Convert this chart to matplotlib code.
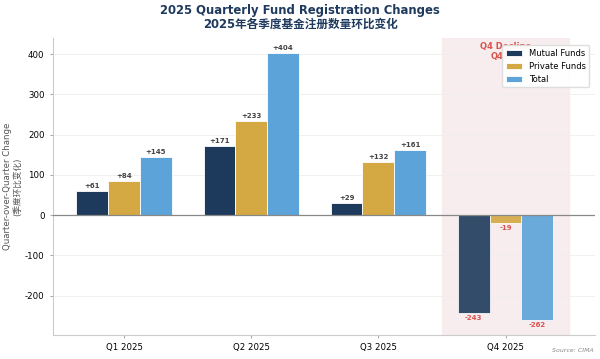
import matplotlib
matplotlib.use("Agg")
import matplotlib.pyplot as plt
import numpy as np

plt.rcParams['font.family'] = ['DejaVu Sans', 'Noto Sans CJK SC']
plt.rcParams['axes.unicode_minus'] = False

quarters = ["Q1 2025", "Q2 2025", "Q3 2025", "Q4 2025"]
mutual = [61, 171, 29, -243]
private = [84, 233, 132, -19]
total = [145, 404, 161, -262]
series_names = ["Mutual Funds", "Private Funds", "Total"]
colors = ["#1d3a5c", "#d4a843", "#5ba3d9"]

fig = plt.figure(figsize=(6, 3.59), dpi=100)
ax = fig.add_axes([0.088, 0.067, 0.903, 0.827])

x = np.arange(len(quarters))
w = 0.25
ax.axvspan(2.5, 3.5, color="#f7e9ea", alpha=0.8, zorder=0)

for i, (vals, name, c) in enumerate(zip([mutual, private, total], series_names, colors)):
    offs = (i - 1) * w
    for j, v in enumerate(vals):
        alpha = 0.9 if j == 3 else 1.0
        ax.bar(x[j] + offs, v, w, color=c, edgecolor="white", linewidth=0.6,
               alpha=alpha, zorder=2, label=name if j == 0 else None)
        if v >= 0:
            ax.text(x[j] + offs, v + 5, f"+{v}", ha="center", va="bottom",
                    fontsize=5, fontweight="bold", color="#444444", zorder=4)
        else:
            ax.text(x[j] + offs, v - 5, f"{v}", ha="center", va="top",
                    fontsize=5, fontweight="bold", color="#d9534f", zorder=4)

ax.axhline(0, color="#888888", linewidth=0.9, zorder=3)
ax.text(3.0, 430, "Q4 Decline\nQ4回落", ha="center", va="top", fontsize=6,
        fontweight="bold", color="#d9534f", zorder=1, linespacing=1.1)

ax.set_xlim(-0.56, 3.7)
ax.set_ylim(-298, 440)
ax.set_xticks(x)
ax.set_xticklabels(quarters, fontsize=6.2)
ax.tick_params(axis="y", labelsize=6.2, length=2.5, color="#aaaaaa")
ax.tick_params(axis="x", length=2, color="#aaaaaa")
ax.yaxis.grid(True, color="#eeeeee", linewidth=0.6, zorder=0)
ax.set_axisbelow(True)
for s in ["top", "right"]:
    ax.spines[s].set_visible(False)
for s in ["left", "bottom"]:
    ax.spines[s].set_color("#cccccc")
    ax.spines[s].set_linewidth(0.8)

ax.set_ylabel("Quarter-over-Quarter Change\n(季度环比变化)", fontsize=6.2, color="#555555",
              linespacing=1.1)
ax.yaxis.set_label_coords(-0.057, 0.5)

leg = ax.legend(loc="upper right", fontsize=6, frameon=True, framealpha=0.95,
                edgecolor="#dddddd", bbox_to_anchor=(0.998, 0.99))
leg.set_zorder(10)

fig.suptitle("2025 Quarterly Fund Registration Changes\n2025年各季度基金注册数量环比变化",
             fontsize=8.4, fontweight="bold", color="#1f3a5f", y=0.99, linespacing=1.15)
fig.text(0.99, 0.018, "Source: CIMA", ha="right", va="bottom", fontsize=4.5,
         style="italic", color="#888888")

fig.savefig("out.png", dpi=100)
